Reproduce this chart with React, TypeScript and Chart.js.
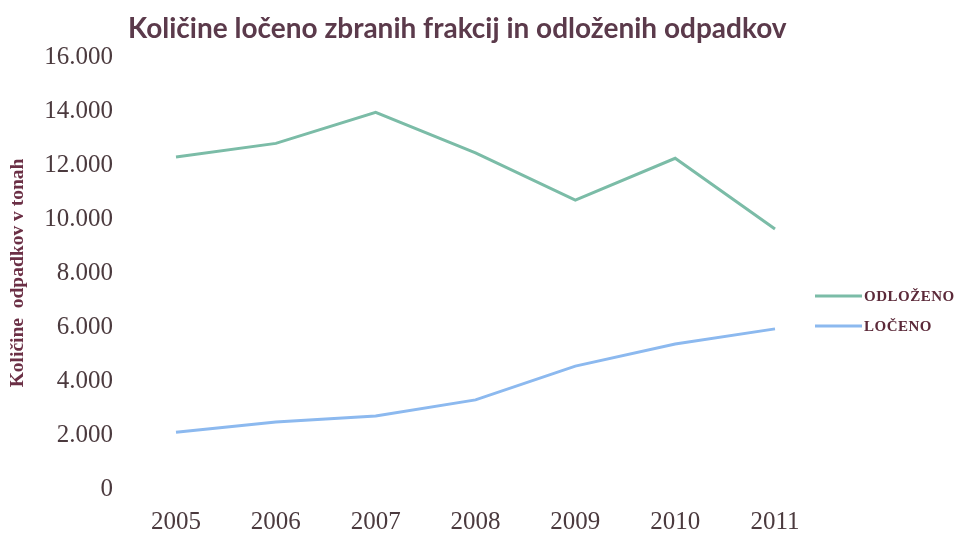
import React, { useEffect, useRef } from "react";
import { Chart, registerables } from "chart.js";

Chart.register(...registerables);

const years = ["2005", "2006", "2007", "2008", "2009", "2010", "2011"];
const odlozeno = [12300, 12800, 13950, 12450, 10700, 12250, 9630];
const loceno = [2100, 2480, 2700, 3300, 4550, 5370, 5930];
const seriesNames = ["ODLOŽENO", "LOČENO"];
const seriesColors = ["#7bbca7", "#8cb9ef"];
const titleText = "Količine ločeno zbranih frakcij in odloženih odpadkov";
const yTitle = "Količine  odpadkov v tonah";

const overlayPlugin = {
  id: "overlay",
  afterDraw(chart: any) {
    const ctx = chart.ctx;
    ctx.save();
    ctx.fillStyle = "#5b3a4b";
    ctx.font = "bold 28px Lato, 'Open Sans', sans-serif";
    ctx.textAlign = "left";
    ctx.textBaseline = "middle";
    ctx.fillText(titleText, 128, 29);
    const ys = [296, 326];
    seriesNames.forEach((n, i) => {
      ctx.strokeStyle = seriesColors[i];
      ctx.lineWidth = 3;
      ctx.beginPath();
      ctx.moveTo(815, ys[i]);
      ctx.lineTo(862, ys[i]);
      ctx.stroke();
      ctx.fillStyle = "#5c2a3a";
      ctx.font = "bold 15px 'Liberation Serif', serif";
      ctx.textAlign = "left";
      (ctx as any).letterSpacing = "0.5px";
      ctx.fillText(n, 864, ys[i] + 1);
    });
    ctx.restore();
  },
};

export default function App() {
  const ref = useRef<HTMLCanvasElement>(null);
  useEffect(() => {
    document.body.style.margin = "0";
    const chart = new Chart(ref.current!, {
      type: "line",
      data: {
        labels: years,
        datasets: [
          {
            label: seriesNames[0],
            data: odlozeno,
            borderColor: seriesColors[0],
            backgroundColor: seriesColors[0],
            borderWidth: 3,
            pointRadius: 0,
            tension: 0,
          },
          {
            label: seriesNames[1],
            data: loceno,
            borderColor: seriesColors[1],
            backgroundColor: seriesColors[1],
            borderWidth: 3,
            pointRadius: 0,
            tension: 0,
          },
        ],
      },
      options: {
        animation: false,
        responsive: false,
        layout: { padding: { top: 57, right: 202, left: 0, bottom: 0 } },
        plugins: {
          legend: { display: false },
          title: { display: false },
          tooltip: { enabled: false },
        },
        scales: {
          x: {
            offset: false,
            grid: { display: false, drawTicks: false },
            border: { display: false },
            ticks: {
              color: "#4b3a3e",
              font: { family: "'Liberation Serif', serif", size: 25 },
              padding: 18,
              maxRotation: 0,
              autoSkip: false,
            },
            afterFit(scale: any) {
              scale.height = 47;
              scale.paddingLeft = 0;
              scale.paddingRight = 0;
            },
          },
          y: {
            min: 0,
            max: 16000,
            grid: { display: false, drawTicks: false },
            border: { display: false },
            ticks: {
              stepSize: 2000,
              color: "#4b3a3e",
              font: { family: "'Liberation Serif', serif", size: 25 },
              padding: 63,
              callback: (v: any) => Number(v).toLocaleString("de-DE"),
            },
            title: {
              display: true,
              text: yTitle,
              color: "#6b2f45",
              font: { family: "'Liberation Serif', serif", size: 19.5, weight: "bold" },
              padding: { top: 6, bottom: 0 },
            },
            afterFit(scale: any) {
              scale.width = 176;
              scale.paddingTop = 0;
              scale.paddingBottom = 0;
            },
          },
        },
      },
      plugins: [overlayPlugin],
    });
    return () => chart.destroy();
  }, []);
  return (
    <div style={{ width: 977, height: 536, position: "relative" }}>
      <canvas ref={ref} width={977} height={536} style={{ display: "block" }} />
    </div>
  );
}
